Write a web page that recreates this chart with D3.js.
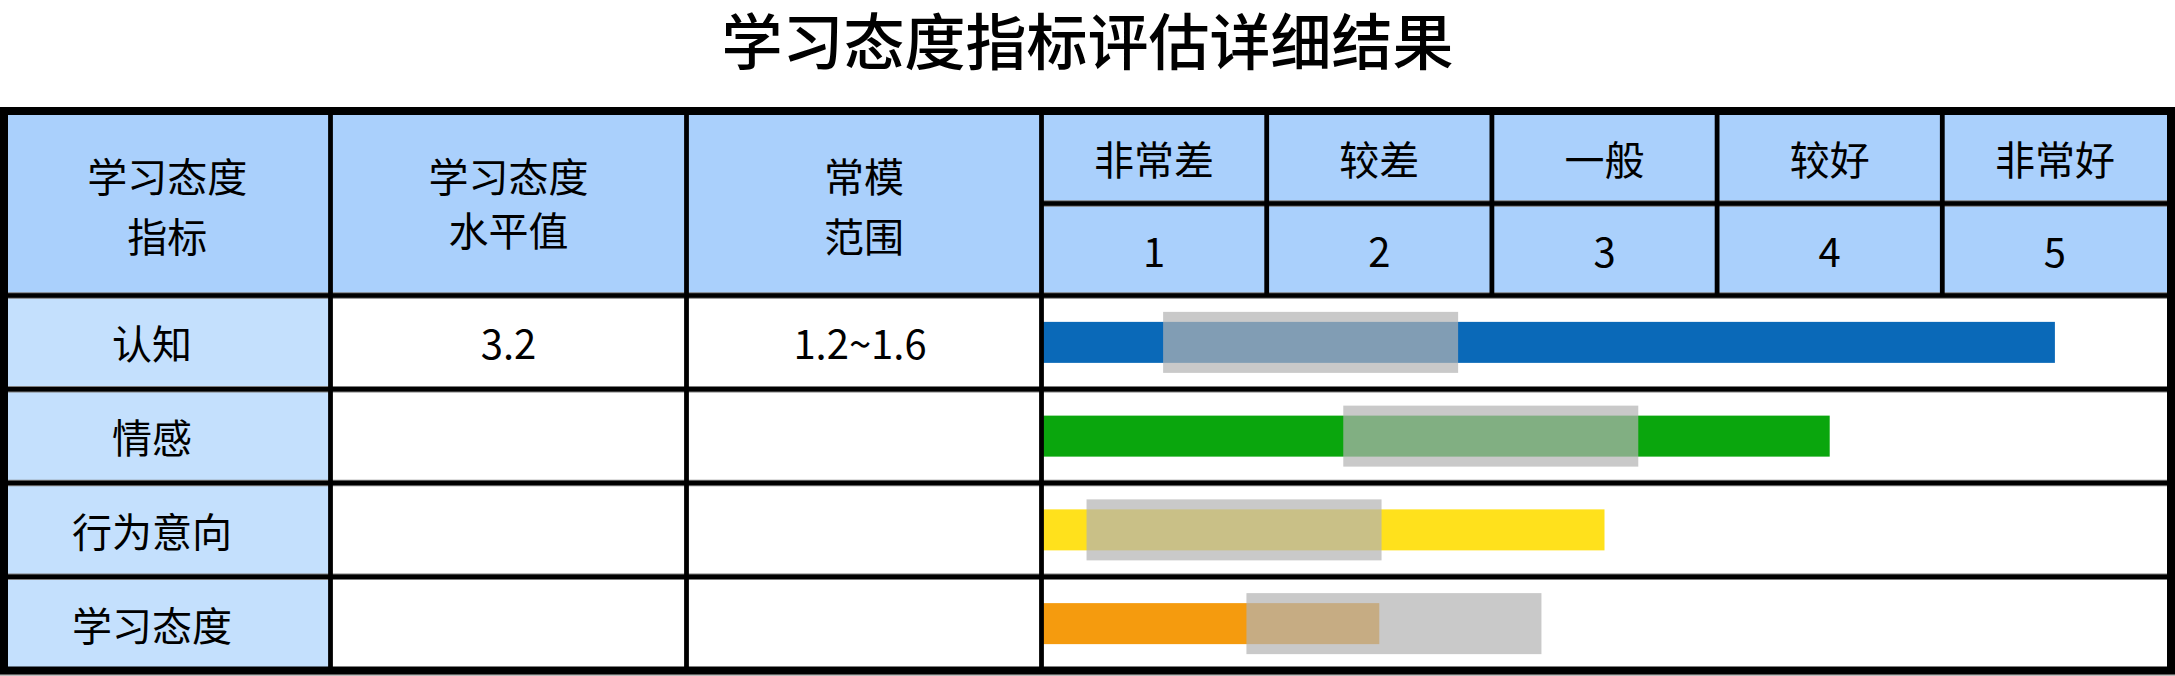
<!DOCTYPE html>
<html>
<head>
<meta charset="utf-8">
<script src="https://cdn.jsdelivr.net/npm/d3@7/dist/d3.min.js"></script>
<style>
  html, body { margin: 0; padding: 0; background: #ffffff; }
  svg { display: block; }
  text { font-family: "Noto Sans CJK SC", "Noto Sans", sans-serif; fill: #000; }
</style>
</head>
<body>
<svg id="chart" width="2175" height="676"></svg>
<script>
// ---------------- data ----------------
const title = "学习态度指标评估详细结果";
const headerCols = [["学习态度", "指标"], ["学习态度", "水平值"], ["常模", "范围"]];
const ratingLabels = ["非常差", "较差", "一般", "较好", "非常好"];
const ratingTicks = [1, 2, 3, 4, 5];
const indicators = ["认知", "情感", "行为意向", "学习态度"];
const levelValues = ["3.2", "", "", ""];
const normTexts = ["1.2~1.6", "", "", ""];
const barValues = [5, 4, 3, 2];
const normLow = [1.04, 1.84, 0.70, 1.41];
const normHigh = [2.35, 3.15, 2.01, 2.72];
const barColors = ["#0a69b8", "#0aa60d", "#ffe11c", "#f59b0e"];

// ---------------- layout ----------------
const W = 2175, H = 676;
const tableTop = 111, tableBottom = 670.5, tableLeft = 4, tableRight = 2171;
const headerMid = 203.5, headerBottom = 295.5;
const colEdges = [tableLeft, 330.5, 686.5, 1041.5];
const ratingRight = 2167.5;
const headerLineY = [[175, 235], [175, 229], [175, 235]];

const svg = d3.select("#chart");

const x = d3.scaleLinear().domain([0.5, 5.5]).range([colEdges[3], ratingRight]);
const y = d3.scaleBand().domain(indicators).range([headerBottom, tableBottom]).padding(0);
const ratingBand = d3.scaleBand().domain(ratingTicks).range([colEdges[3], ratingRight]);

// title
svg.append("text")
  .attr("x", W / 2).attr("y", 38)
  .attr("text-anchor", "middle").attr("dominant-baseline", "central")
  .style("font-size", "61px").style("font-weight", "500")
  .text(title);

// backgrounds
svg.append("rect").attr("x", tableLeft).attr("y", tableTop)
  .attr("width", tableRight - tableLeft).attr("height", headerBottom - tableTop)
  .attr("fill", "#aad0fc");
svg.append("rect").attr("x", tableLeft).attr("y", headerBottom)
  .attr("width", colEdges[1] - tableLeft).attr("height", tableBottom - headerBottom)
  .attr("fill", "#c4e0fd");

// bars
const bh = 41, gh = 61;
svg.append("g").selectAll("rect").data(indicators).join("rect")
  .attr("x", x(0.5))
  .attr("y", d => y(d) + y.bandwidth() / 2 - bh / 2)
  .attr("width", (d, i) => x(barValues[i]) - x(0.5))
  .attr("height", bh)
  .attr("fill", (d, i) => barColors[i]);

svg.append("g").selectAll("rect").data(indicators).join("rect")
  .attr("x", (d, i) => x(normLow[i]))
  .attr("y", d => y(d) + y.bandwidth() / 2 - gh / 2)
  .attr("width", (d, i) => x(normHigh[i]) - x(normLow[i]))
  .attr("height", gh)
  .attr("fill", "rgb(179,179,179)").attr("fill-opacity", 0.71);

// grid lines
const grid = svg.append("g");
function hline(x1, x2, yy) {
  grid.append("line").attr("x1", x1).attr("x2", x2).attr("y1", yy).attr("y2", yy)
    .attr("stroke", "#7d7d7d").attr("stroke-width", 6.5);
  grid.append("line").attr("x1", x1).attr("x2", x2).attr("y1", yy).attr("y2", yy)
    .attr("stroke", "#000").attr("stroke-width", 4.6);
}
function vline(xx, y1, y2) {
  grid.append("line").attr("x1", xx).attr("x2", xx).attr("y1", y1).attr("y2", y2)
    .attr("stroke", "#000").attr("stroke-width", 4.8);
}
hline(colEdges[3], tableRight, headerMid);
hline(tableLeft, tableRight, headerBottom);
indicators.slice(1).forEach(d => hline(tableLeft, tableRight, y(d)));
[colEdges[1], colEdges[2], colEdges[3]].forEach(xx => vline(xx, tableTop, tableBottom));
ratingTicks.slice(1).forEach(t => vline(ratingBand(t), tableTop, headerBottom));

// outer frame
svg.append("line").attr("x1", 0).attr("x2", W).attr("y1", 675).attr("y2", 675)
  .attr("stroke", "#bdbdbd").attr("stroke-width", 2);
svg.append("rect").attr("x", tableLeft).attr("y", tableTop)
  .attr("width", tableRight - tableLeft).attr("height", tableBottom - tableTop)
  .attr("fill", "none").attr("stroke", "#000").attr("stroke-width", 8);

// header texts
const txt = svg.append("g").style("font-size", "40px");
headerCols.forEach((lines, ci) => {
  const cx = (colEdges[ci] + colEdges[ci + 1]) / 2;
  lines.forEach((l, li) => {
    txt.append("text").attr("x", cx).attr("y", headerLineY[ci][li])
      .attr("text-anchor", "middle").attr("dominant-baseline", "central").text(l);
  });
});
ratingTicks.forEach((t, i) => {
  const cx = ratingBand(t) + ratingBand.bandwidth() / 2;
  txt.append("text").attr("x", cx).attr("y", (tableTop + headerMid) / 2 + 1)
    .attr("text-anchor", "middle").attr("dominant-baseline", "central").text(ratingLabels[i]);
  txt.append("text").attr("x", cx).attr("y", (headerMid + headerBottom) / 2)
    .attr("text-anchor", "middle").attr("dominant-baseline", "central").text(t);
});

// body texts
indicators.forEach((d, i) => {
  const cy = y(d) + y.bandwidth() / 2;
  txt.append("text").attr("x", 152).attr("y", cy)
    .attr("text-anchor", "middle").attr("dominant-baseline", "central").text(d);
  txt.append("text").attr("x", (colEdges[1] + colEdges[2]) / 2).attr("y", cy)
    .attr("text-anchor", "middle").attr("dominant-baseline", "central").text(levelValues[i]);
  txt.append("text").attr("x", (colEdges[2] + colEdges[3]) / 2 - 4).attr("y", cy)
    .attr("text-anchor", "middle").attr("dominant-baseline", "central").text(normTexts[i]);
});
</script>
</body>
</html>
